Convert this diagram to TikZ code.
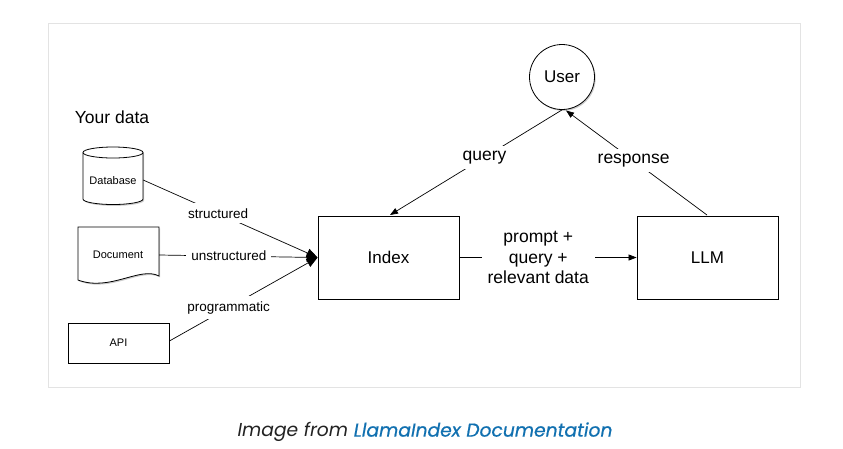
\documentclass[tikz,border=0pt]{standalone}
\usepackage{fontspec}
\setmainfont{Liberation Sans}
\newfontfamily\capfont{Poppins}
\newfontfamily\capfontb{Poppins}[FakeBold=0.6]
\usetikzlibrary{arrows.meta,shadows}
\definecolor{framegray}{HTML}{E3E3E3}
\definecolor{capblue}{HTML}{1170B0}
\definecolor{captext}{HTML}{222222}
\tikzset{
  shad/.style={drop shadow={shadow xshift=1.2pt,shadow yshift=-1.4pt,fill=black!40,opacity=.5}},
  box/.style={draw=black,line width=0.8pt,fill=white,shad,font=\fontsize{17}{20}\selectfont},
  smallbox/.style={draw=black,line width=0.8pt,fill=white,shad,font=\fontsize{11}{13}\selectfont},
  conn/.style={line width=0.7pt},
  arr/.style={conn,-{Triangle[length=8pt,width=6pt]}},
  bigarr/.style={conn,-{Triangle[length=11pt,width=9pt]}},
  lbl/.style={fill=white,inner sep=5pt,font=\fontsize{13.5}{15}\selectfont},
  biglbl/.style={fill=white,inner sep=5pt,font=\fontsize{17.5}{20.5}\selectfont,align=center}
}
\begin{document}
\begin{tikzpicture}[x=1pt,y=-1pt]
\useasboundingbox (0,0) rectangle (843,448);
\draw[framegray,line width=0.8pt] (48,23) rectangle (800,387);

% Your data
\node[font=\fontsize{17.5}{20}\selectfont] (yd) at (112,117) {Your data};

% Database cylinder
\node[minimum width=60pt,minimum height=58pt,inner sep=0pt] (db) at (113,176) {};
\draw[line width=0.8pt,fill=white,shad]
  (83,152.5) -- (83,199) arc[start angle=180,end angle=0,x radius=30,y radius=5.5] -- (143,152.5)
  arc[start angle=0,end angle=-180,x radius=30,y radius=5.5] -- cycle;
\draw[line width=0.8pt] (83,152.5) arc[start angle=180,end angle=0,x radius=30,y radius=5.5];
\node[font=\fontsize{11}{13}\selectfont] at (113,181) {Database};

% Document
\node[minimum width=81pt,minimum height=56pt,inner sep=0pt] (doc) at (118.5,255) {};
\draw[line width=0.8pt,fill=white,shad]
  (78,227) -- (159,227) -- (159,276)
  .. controls (140,266) and (110,292) .. (78,280) -- cycle;
\node[font=\fontsize{11}{13}\selectfont] at (118,255) {Document};

% API
\node[smallbox,minimum width=101pt,minimum height=40pt,inner sep=0pt] (api) at (118.5,343) {API};

% Index, LLM, User
\node[box,minimum width=141pt,minimum height=83pt,inner sep=0pt] (index) at (388.5,257.5) {Index};
\node[box,minimum width=141pt,minimum height=83pt,inner sep=0pt] (llm) at (707.5,257.5) {LLM};
\node[box,circle,minimum size=65pt,inner sep=0pt] (user) at (562,77) {User};

% data connectors
\draw[bigarr] (db.east |- 0,180) -- node[lbl,pos=0.43] {structured} (index.west);
\draw[bigarr] (doc.east) -- node[lbl,pos=0.44] {unstructured} (index.west);
\draw[bigarr] (api.east |- 0,341) -- node[lbl,pos=0.4] {programmatic} (index.west);

% index -> llm
\draw[arr] (index.east) -- node[biglbl,pos=0.445,inner xsep=6pt] {prompt +\\query +\\relevant data} (llm.west);

% query / response
\coordinate (uq) at (user.south);
\coordinate (ixq) at (390,215);
\draw[arr] (uq) -- node[biglbl,pos=0.45] {query} (ixq);
\coordinate (lr) at (707,215);
\coordinate (ur) at (566,110.5);
\draw[arr] (lr) -- node[biglbl,pos=0.52] {response} (ur);

% caption
\node[font=\capfont\itshape\fontsize{18.7}{22}\selectfont] (cap) at (425,432)
  {\textcolor{captext}{Image from} \textcolor{capblue}{\capfontb LlamaIndex Documentation}};
\end{tikzpicture}
\end{document}
